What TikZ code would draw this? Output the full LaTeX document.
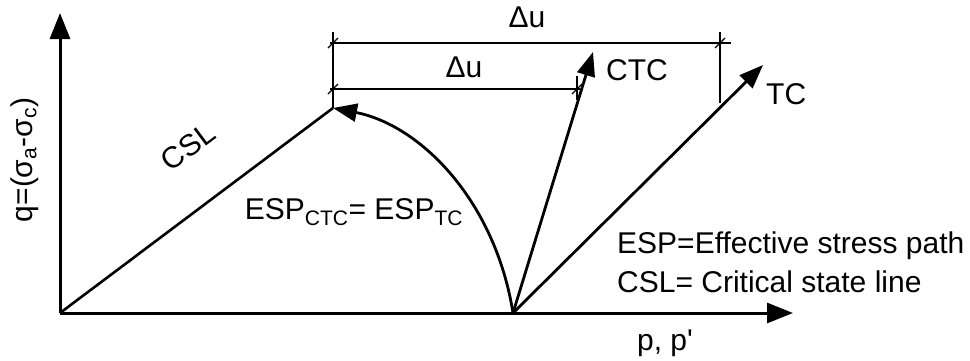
\documentclass[tikz,border=0pt]{standalone}
\usepackage{fontspec}
\setmainfont{Liberation Sans}
\usepackage{tikz}
\usetikzlibrary{positioning,arrows.meta,calc}

\begin{document}
\begin{tikzpicture}[
      x=1pt, y=-1pt,
      every node/.style={font=\fontsize{30}{34}\selectfont, inner sep=0pt},
      axis/.style={line width=3pt, -{Triangle[length=26pt,width=20pt]}},
      stresspath/.style={line width=2.8pt, -{Triangle[length=24pt,width=18pt]}},
      csl/.style={line width=2.6pt},
      dim/.style={line width=2pt},
      tick/.style={line width=1.2pt},
    ]
    \useasboundingbox (0,0) rectangle (970,360);
    % axes
    \coordinate (o) at (60,313);
    \coordinate (qtip) at (60,13);
    \coordinate (ptip) at (793,313);
    \draw[axis] (o) -- (qtip);
    \draw[axis] (o) -- (ptip);
    \node[rotate=90] (qlabel) at (25,160) {q=(σ\textsubscript{a}-σ\textsubscript{c})};
    \node (plabel) at (665,343) {p, p\textquotesingle};
    % critical state line and stress paths
    \coordinate (start) at (513,313);
    \coordinate (peak) at (333,108);
    \coordinate (ctctip) at (593,52);
    \coordinate (tctip) at (763,65);
    \draw[csl] (o) -- (peak);
    \node[rotate=36.9] (csllabel) at (188,147) {CSL};
    \draw[stresspath] (start) .. controls (495,200) and (420,125) .. (peak);
    \draw[stresspath] (start) -- (ctctip);
    \draw[stresspath] (start) -- (tctip);
    \node[anchor=west] (ctc) at (606,70) {CTC};
    \node[anchor=west] (tc) at (766,94) {TC};
    \node (esp) at (354,212) {ESP\textsubscript{CTC}= ESP\textsubscript{TC}};
    % pore pressure dimensions
    \coordinate (dl) at (333,32);
    \coordinate (dr) at (720,32);
    \coordinate (drb) at (720,103);
    \draw[dim] (peak) -- (dl);
    \draw[dim] (dr) -- (drb);
    \draw[dim] (330,43) -- (731,43);
    \draw[dim] (330,89) -- (580,89);
    \draw[dim] (577,76) -- (577,100);
    \foreach \px/\py in {333/43, 333/89, 720/43, 577/89}
      \draw[tick] (\px-5,\py+5) -- (\px+5,\py-5);
    \node (dutop) at (527,17) {Δu};
    \node (dulow) at (464,67) {Δu};
    % legend
    \node[anchor=west] (leg1) at (617,246) {ESP=Effective stress path};
    \node[anchor=west] (leg2) at (617,282) {CSL= Critical state line};
  \end{tikzpicture}
\end{document}
